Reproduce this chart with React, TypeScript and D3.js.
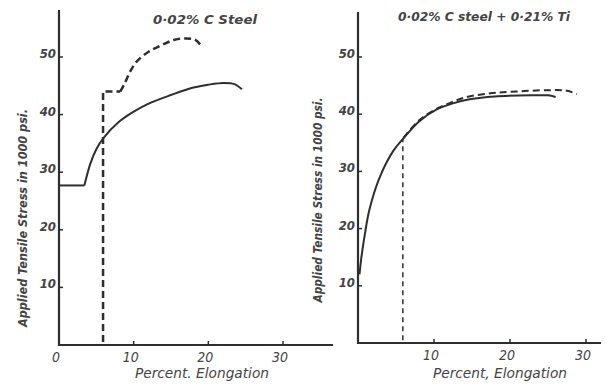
import React from "react";
import * as d3 from "d3";

const width = 606;
const height = 388;

const yTicks = [10, 20, 30, 40, 50];
const xTicksLeft = [0, 10, 20, 30];
const xTicksRight = [10, 20, 30];

// 0.02% C steel
const leftSolidFlat = [
  { x: 0, y: 27.7 },
  { x: 3.4, y: 27.7 },
];
const leftSolidCurve = [
  { x: 3.4, y: 27.7 },
  { x: 4.2, y: 31.5 },
  { x: 5, y: 34 },
  { x: 6, y: 36 },
  { x: 8, y: 38.7 },
  { x: 10, y: 40.5 },
  { x: 12, y: 41.9 },
  { x: 15, y: 43.4 },
  { x: 18, y: 44.7 },
  { x: 20, y: 45.2 },
  { x: 22, y: 45.5 },
  { x: 23.5, y: 45.3 },
  { x: 24.5, y: 44.4 },
];
const leftDashedStep = [
  { x: 5.9, y: 0.5 },
  { x: 5.9, y: 44 },
  { x: 8.2, y: 44 },
];
const leftDashedCurve = [
  { x: 8.2, y: 44 },
  { x: 8.8, y: 45.4 },
  { x: 9.5, y: 47.4 },
  { x: 10.4, y: 49.2 },
  { x: 12, y: 50.9 },
  { x: 13.8, y: 52.1 },
  { x: 15.5, y: 53 },
  { x: 17.1, y: 53.2 },
  { x: 18.2, y: 53 },
  { x: 18.9, y: 52.2 },
];

// 0.02% C steel + 0.21% Ti
const rightSolid = [
  { x: 0.2, y: 12 },
  { x: 0.4, y: 14.5 },
  { x: 0.9, y: 19 },
  { x: 1.5, y: 23.3 },
  { x: 2.8, y: 28.8 },
  { x: 4.6, y: 33.5 },
  { x: 6, y: 35.8 },
  { x: 8, y: 38.7 },
  { x: 10.3, y: 40.8 },
  { x: 12.5, y: 41.9 },
  { x: 14.7, y: 42.6 },
  { x: 18, y: 43.1 },
  { x: 23.4, y: 43.3 },
  { x: 25, y: 43.3 },
  { x: 26, y: 43 },
];
const rightDashedDrop = [
  { x: 5.9, y: 0.5 },
  { x: 5.9, y: 35.7 },
];
const rightDashedCurve = [
  { x: 6, y: 35.9 },
  { x: 8, y: 38.9 },
  { x: 10, y: 40.7 },
  { x: 12, y: 41.9 },
  { x: 14, y: 42.9 },
  { x: 17, y: 43.6 },
  { x: 20, y: 43.9 },
  { x: 25, y: 44.2 },
  { x: 27.5, y: 44.1 },
  { x: 28.8, y: 43.5 },
];

const ink = "#2e2e2e";
const textInk = "#444";
const font = "'DejaVu Sans Condensed', 'Liberation Sans Narrow', sans-serif";

type Pt = { x: number; y: number };

const Panel = ({
  xRange,
  yRange,
  axisTop,
  axisRightEnd,
  xTicks,
  title,
  titlePos,
  titleLen,
  yLabelPos,
  yLabelLen,
  xLabel,
  xLabelPos,
  solids,
  dashed,
}: any) => {
  const x = d3.scaleLinear().domain([0, 30]).range(xRange);
  const y = d3.scaleLinear().domain([0, 50]).range(yRange);
  // two separate generators: .curve() mutates the generator it is called on
  const straight = d3
    .line<Pt>()
    .x((d) => x(d.x))
    .y((d) => y(d.y));
  const smooth = d3
    .line<Pt>()
    .x((d) => x(d.x))
    .y((d) => y(d.y))
    .curve(d3.curveCatmullRom.alpha(0.5));
  const x0 = x(0);
  const y0 = y(0);

  return (
    <g>
      {/* axes */}
      <line x1={x0} x2={x0} y1={axisTop} y2={y0 + 1} stroke={ink} strokeWidth={2.2} />
      <line x1={x0 - 1} x2={axisRightEnd} y1={y0} y2={y0} stroke={ink} strokeWidth={2.2} />

      {yTicks.map((t) => (
        <g key={t}>
          <line x1={x0} x2={x0 + 4} y1={y(t)} y2={y(t)} stroke={ink} strokeWidth={1.5} />
          <text
            x={x0 - 3}
            y={y(t) + 1}
            textAnchor="end"
            fontSize={13}
            fontStyle="italic"
            fontWeight="bold"
            fontFamily={font}
            fill={textInk}
          >
            {t}
          </text>
        </g>
      ))}

      {xTicks.map((t: number) => (
        <g key={t}>
          {t > 0 && <line x1={x(t)} x2={x(t)} y1={y0} y2={y0 - 4} stroke={ink} strokeWidth={1.5} />}
          <text
            x={x(t) - 3}
            y={y0 + 17}
            textAnchor="middle"
            fontSize={14}
            fontStyle="italic"
            fontFamily={font}
            fill={textInk}
          >
            {t}
          </text>
        </g>
      ))}

      {/* curves */}
      {solids.map((s: any, i: number) => (
        <path
          key={i}
          d={(s.smooth ? smooth : straight)(s.pts) as string}
          fill="none"
          stroke={ink}
          strokeWidth={2}
          strokeLinejoin="round"
        />
      ))}
      {dashed.map((s: any, i: number) => (
        <path
          key={i}
          d={(s.smooth ? smooth : straight)(s.pts) as string}
          fill="none"
          stroke={ink}
          strokeWidth={s.w}
          strokeDasharray={s.dash}
        />
      ))}

      {/* texts */}
      <text
        x={titlePos[0]}
        y={titlePos[1]}
        textAnchor="middle"
        fontSize={13}
        fontStyle="italic"
        fontWeight="bold"
        fontFamily={font}
        fill={textInk}
        textLength={titleLen}
        lengthAdjust="spacingAndGlyphs"
      >
        {title}
      </text>
      <text
        transform={`translate(${yLabelPos[0]},${yLabelPos[1]}) rotate(-90)`}
        textAnchor="middle"
        fontSize={13}
        fontStyle="italic"
        fontWeight="bold"
        fontFamily={font}
        fill={textInk}
        textLength={yLabelLen}
        lengthAdjust="spacingAndGlyphs"
      >
        Applied Tensile Stress in 1000 psi.
      </text>
      <text
        x={xLabelPos[0]}
        y={xLabelPos[1]}
        textAnchor="middle"
        fontSize={14}
        fontStyle="italic"
        fontFamily={font}
        fill={textInk}
        textLength={134}
        lengthAdjust="spacingAndGlyphs"
      >
        {xLabel}
      </text>
    </g>
  );
};

const App = () => {
  return (
    <svg
      width={width}
      height={height}
      style={{ position: "absolute", left: 0, top: 0, background: "#fff" }}
    >
      <Panel
        xRange={[59, 283]}
        yRange={[345, 57]}
        axisTop={10}
        axisRightEnd={333}
        xTicks={xTicksLeft}
        title="0·02% C Steel"
        titlePos={[205, 24]}
        titleLen={104}
        yLabelPos={[27, 218]}
        yLabelLen={218}
        xLabel="Percent. Elongation"
        xLabelPos={[202, 378]}
        solids={[
          { pts: leftSolidFlat, smooth: false },
          { pts: leftSolidCurve, smooth: true },
        ]}
        dashed={[
          { pts: leftDashedStep, smooth: false, w: 2.5, dash: "7,4" },
          { pts: leftDashedCurve, smooth: true, w: 2.5, dash: "7,4" },
        ]}
      />
      <Panel
        xRange={[358, 586]}
        yRange={[343, 57]}
        axisTop={12}
        axisRightEnd={601}
        xTicks={xTicksRight}
        title="0·02% C steel + 0·21% Ti"
        titlePos={[484, 21]}
        titleLen={172}
        yLabelPos={[322, 200]}
        yLabelLen={205}
        xLabel="Percent, Elongation"
        xLabelPos={[500, 378]}
        solids={[{ pts: rightSolid, smooth: true }]}
        dashed={[
          { pts: rightDashedDrop, smooth: false, w: 1.5, dash: "5,4" },
          { pts: rightDashedCurve, smooth: true, w: 2, dash: "7,4" },
        ]}
      />
    </svg>
  );
};

export default App;
